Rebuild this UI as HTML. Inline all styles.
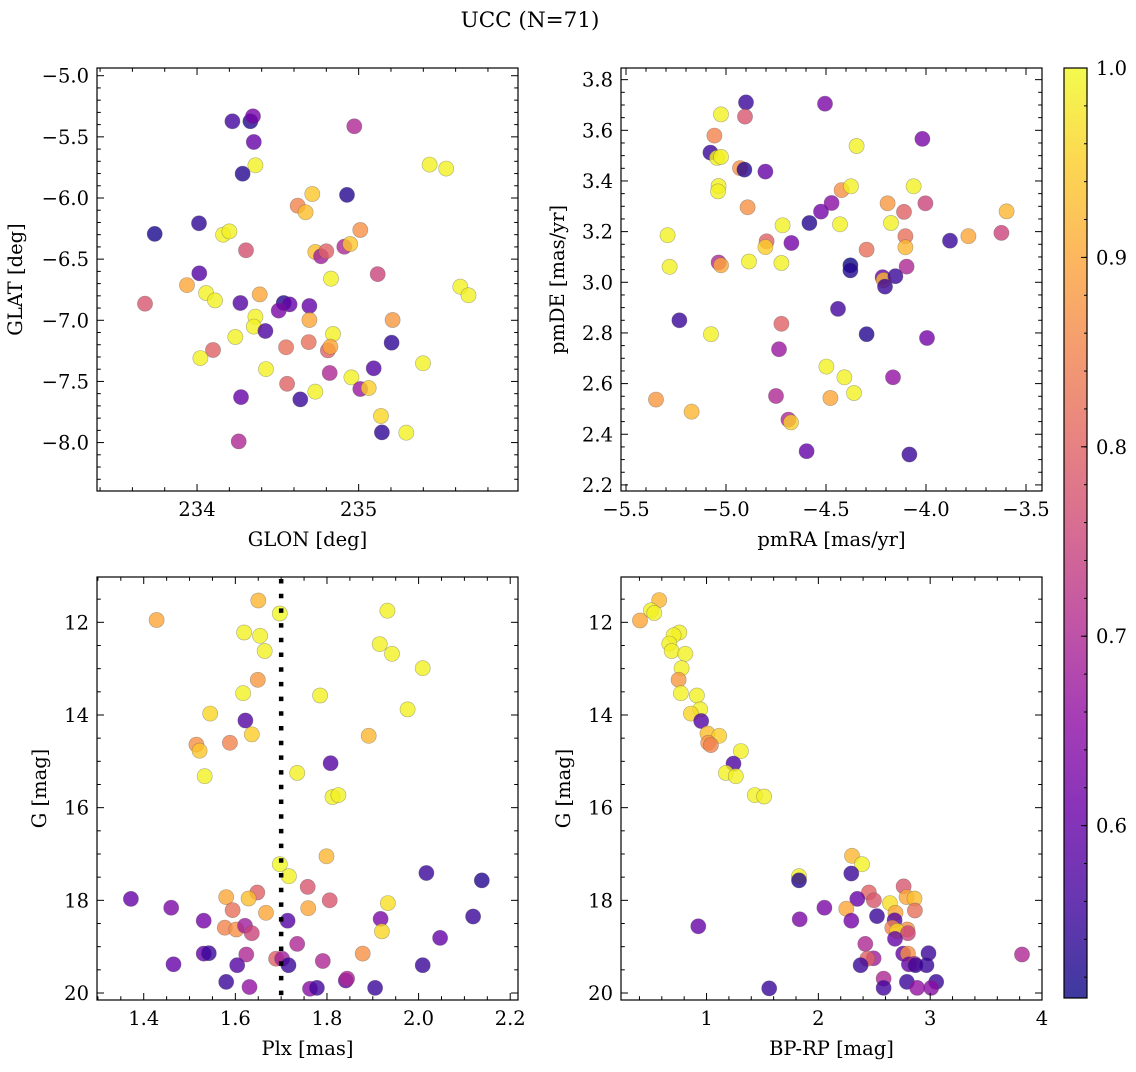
<!DOCTYPE html>
<html><head><meta charset="utf-8">
<style>
html,body{margin:0;padding:0;background:#fff;}
svg text{font-family:"DejaVu Serif","Liberation Serif",serif;fill:#000;}
</style></head>
<body>
<svg id="fig" width="1136" height="1067" viewBox="0 0 1136 1067" xmlns="http://www.w3.org/2000/svg">
<defs>
<linearGradient id="cbgrad" x1="0" y1="1" x2="0" y2="0"></linearGradient>
</defs>
<text x="530" y="27" font-size="21.5" text-anchor="middle">UCC (N=71)</text>
<g id="layer"></g>
</svg>
<script>
// ---- Panel 1: GLON / GLAT ----
const p1Lon = [234.219,234.330,234.346,234.351,234.973,234.361,234.282,235.439,235.542,234.713,
234.928,234.623,234.672,234.012,233.738,234.161,234.200,235.010,234.303,234.732,
234.767,234.800,234.911,234.948,234.014,235.118,234.829,233.938,234.056,234.111,
233.678,234.268,234.388,234.536,234.573,234.505,234.695,235.629,235.680,234.361,
234.351,234.423,234.695,235.210,234.841,234.237,234.099,234.551,234.691,234.810,
234.825,235.204,234.021,234.427,235.398,234.821,234.955,235.093,234.557,234.732,
234.639,235.010,235.062,234.272,235.138,235.144,235.295,234.258];
const p1Lat = [-5.373,-5.373,-5.332,-5.542,-5.414,-5.733,-5.801,-5.727,-5.760,-5.967,
-5.975,-6.063,-6.117,-6.207,-6.294,-6.300,-6.273,-6.262,-6.428,-6.442,
-6.477,-6.436,-6.398,-6.376,-6.616,-6.622,-6.660,-6.712,-6.777,-6.837,
-6.864,-6.859,-6.788,-6.859,-6.870,-6.921,-6.883,-6.725,-6.796,-6.971,
-7.052,-7.088,-6.998,-6.998,-7.112,-7.137,-7.243,-7.221,-7.178,-7.246,
-7.216,-7.183,-7.309,-7.399,-7.352,-7.431,-7.467,-7.393,-7.519,-7.584,
-7.647,-7.562,-7.554,-7.628,-7.783,-7.917,-7.919,-7.990];
const p1Prob = [.56,.53,.62,.60,.70,.99,.53,.99,.99,.94,
.53,.85,.93,.54,.52,.99,.99,.87,.77,.93,
.68,.80,.70,.94,.58,.75,.99,.90,.99,.99,
.78,.58,.90,.53,.60,.63,.60,.99,.99,.99,
.99,.57,.90,.88,.99,.99,.80,.82,.82,.80,
.90,.54,.99,.99,.99,.70,.99,.58,.80,.99,
.55,.67,.95,.60,.96,.54,.99,.70];

// ---- Panel 2: pmRA / pmDE ----
const p2RA = [-4.90,-4.505,-5.025,-4.905,-5.058,-5.078,-5.045,-5.025,-4.93,-4.908,
-4.803,-4.347,-4.018,-5.037,-5.04,-4.892,-4.422,-4.375,-4.062,-4.472,
-4.525,-4.583,-4.43,-4.717,-4.192,-4.11,-4.003,-4.175,-3.597,-5.292,
-4.797,-4.803,-4.673,-4.297,-4.103,-4.103,-3.88,-3.788,-3.623,-5.282,
-5.037,-5.025,-4.885,-4.723,-4.378,-4.378,-4.097,-4.217,-4.212,-4.153,
-4.205,-4.44,-5.233,-5.075,-4.723,-4.297,-3.995,-4.735,-4.498,-4.408,
-4.36,-4.478,-4.165,-5.35,-5.172,-4.75,-4.688,-4.675,-4.597,-4.083];
const p2DE = [3.710,3.705,3.663,3.654,3.579,3.512,3.491,3.495,3.451,3.445,
3.437,3.538,3.566,3.380,3.359,3.296,3.364,3.379,3.379,3.313,
3.279,3.234,3.229,3.225,3.312,3.278,3.312,3.234,3.280,3.186,
3.162,3.139,3.155,3.129,3.182,3.138,3.164,3.182,3.195,3.061,
3.078,3.067,3.082,3.076,3.067,3.047,3.062,3.020,3.009,3.024,
2.983,2.895,2.850,2.795,2.836,2.795,2.780,2.736,2.667,2.625,
2.563,2.543,2.625,2.537,2.489,2.551,2.458,2.447,2.333,2.320];
const p2Prob = [.55,.63,.99,.78,.85,.55,.99,.99,.87,.53,
.60,.99,.63,.99,.99,.87,.87,.99,.99,.65,
.62,.53,.99,.99,.88,.80,.75,.99,.92,.99,
.80,.95,.62,.82,.82,.92,.55,.90,.75,.99,
.70,.90,.99,.99,.50,.53,.70,.60,.92,.55,
.55,.56,.55,.99,.80,.53,.62,.67,.99,.99,
.99,.90,.66,.88,.92,.70,.70,.95,.60,.55];

// ---- Panel 3: Plx / G ----
const p3Plx = [1.650,1.697,1.932,1.428,1.619,1.654,1.664,1.915,1.942,2.009,
1.649,1.617,1.785,1.976,1.545,1.622,1.636,1.891,1.515,1.522,
1.588,1.533,1.735,1.808,1.812,1.825,1.697,1.799,1.717,2.017,
2.138,1.758,1.648,1.372,1.580,1.629,1.806,1.933,1.460,1.594,
1.759,1.667,1.531,1.714,1.917,2.119,1.577,1.602,1.621,1.636,
1.920,2.047,1.735,1.531,1.542,1.624,1.465,1.604,1.689,1.702,
1.716,1.791,1.878,2.009,1.580,1.631,1.763,1.778,1.841,1.844,1.905];
const p3G = [11.53,11.81,11.75,11.95,12.22,12.29,12.62,12.47,12.68,12.99,
13.24,13.53,13.58,13.88,13.97,14.12,14.42,14.45,14.64,14.77,
14.60,15.32,15.25,15.04,15.77,15.73,17.22,17.05,17.48,17.41,
17.57,17.71,17.83,17.97,17.93,17.96,18.00,18.06,18.16,18.21,
18.17,18.27,18.44,18.44,18.40,18.35,18.59,18.63,18.55,18.71,
18.67,18.81,18.94,19.15,19.14,19.17,19.38,19.40,19.26,19.26,
19.40,19.31,19.15,19.40,19.76,19.87,19.91,19.89,19.73,19.69,19.89];
const p3Prob = [.92,1.0,.99,.90,.99,.99,.99,.99,.99,.99,
.88,.99,.99,.99,.96,.58,.95,.92,.87,.94,
.85,.99,.99,.58,.99,.99,1.0,.92,.99,.55,
.53,.78,.80,.60,.90,.93,.78,.97,.63,.82,
.90,.90,.62,.58,.63,.55,.85,.87,.68,.75,
.96,.60,.70,.60,.55,.70,.60,.58,.80,.68,
.55,.70,.87,.55,.55,.66,.65,.56,.60,.70,.55];
const plxLine = 1.7;

// ---- Panel 4: BP-RP / G ----
const p4BR = [0.577,0.503,0.533,0.405,0.756,0.705,0.667,0.688,0.810,0.777,
0.750,0.771,0.914,0.943,0.860,0.952,1.009,1.113,1.015,1.039,
1.307,1.241,1.173,1.262,1.432,1.515,2.301,2.390,2.295,1.827,
1.827,2.762,2.452,2.348,2.497,2.789,2.860,2.640,2.054,2.250,
2.863,2.690,2.524,2.682,1.833,2.295,0.926,2.661,2.795,2.705,
2.801,2.685,2.420,2.759,2.801,2.985,3.821,2.494,2.438,2.378,
2.810,2.860,2.869,2.967,2.583,2.583,2.792,3.054,1.560,2.884,3.009];
const p4G = [11.52,11.74,11.80,11.96,12.22,12.28,12.46,12.62,12.68,12.99,
13.24,13.53,13.58,13.88,13.97,14.13,14.40,14.45,14.60,14.65,
14.78,15.05,15.25,15.32,15.73,15.76,17.04,17.22,17.42,17.48,
17.57,17.70,17.83,17.97,18.00,17.93,17.96,18.06,18.16,18.18,
18.22,18.27,18.34,18.43,18.41,18.44,18.56,18.59,18.63,18.66,
18.71,18.83,18.94,19.15,19.15,19.14,19.17,19.25,19.26,19.40,
19.38,19.37,19.40,19.40,19.69,19.89,19.76,19.76,19.90,19.89,19.89];
const p4Prob = [.92,.99,.99,.90,.99,.99,.99,.99,.99,.99,
.88,.99,.99,.99,.96,.58,.93,.95,.87,.85,
.99,.57,.99,.99,.99,.99,.92,.99,.55,.99,
.53,.78,.80,.60,.78,.90,.93,.97,.63,.90,
.82,.90,.55,.58,.63,.62,.60,.85,.87,.96,
.75,.60,.70,.60,.87,.55,.70,.68,.80,.55,
.60,.70,.55,.55,.70,.56,.55,.55,.55,.66,.65];

// colorbar
const cbTicks = [0.6,0.7,0.8,0.9,1.0];
const cbMin = 0.509, cbMax = 1.0;

const FS = 19.5;
const plasma = [[13,8,135],[65,4,157],[106,0,168],[143,13,164],[177,42,144],[204,71,120],[225,100,98],[242,132,75],[252,166,54],[252,206,37],[240,249,33]];
function cmap(v){
  let t=(v-cbMin)/(cbMax-cbMin); t=Math.max(0,Math.min(1,t));
  const s=t*10, i=Math.min(9,Math.floor(s)), f=s-i;
  const a=plasma[i], b=plasma[i+1];
  return 'rgb('+a.map((c,k)=>Math.round(c+(b[k]-c)*f)).join(',')+')';
}
const NS='http://www.w3.org/2000/svg';
const layer=document.getElementById('layer');
function mk(tag,attrs,parent){const e=document.createElementNS(NS,tag);for(const k in attrs)e.setAttribute(k,attrs[k]);(parent||layer).appendChild(e);return e;}
function fmt(v,d){const s=Math.abs(v).toFixed(d);return (v<-1e-9?'\u2212':'')+s;}

const panels=[
 {name:'sky',x0:97,x1:518,y0:68,y1:491,xmin:233.381,xmax:235.986,ymin:-8.396,ymax:-4.937,inv:false,
  xmaj:[234,235],xminStep:0.2,xd:0,ymajStart:-8.0,ymajStep:0.5,yminStep:0.1,yd:1,
  xl:'GLON [deg]',yl:'GLAT [deg]',ylx:22,xs:p1Lon,ys:p1Lat,ps:p1Prob},
 {name:'pm',x0:621,x1:1042,y0:68,y1:491,xmin:-5.525,xmax:-3.42,ymin:2.176,ymax:3.846,inv:false,
  xmaj:[-5.5,-5.0,-4.5,-4.0,-3.5],xminStep:0.1,xd:1,ymajStart:2.2,ymajStep:0.2,yminStep:0.05,yd:1,
  xl:'pmRA [mas/yr]',yl:'pmDE [mas/yr]',ylx:564,xs:p2RA,ys:p2DE,ps:p2Prob},
 {name:'plx',x0:97,x1:518,y0:577,y1:1000,xmin:1.298,xmax:2.217,ymin:11.022,ymax:20.151,inv:true,
  xmaj:[1.4,1.6,1.8,2.0,2.2],xminStep:0.05,xd:1,ymajStart:12,ymajStep:2,yminStep:0.5,yd:0,
  xl:'Plx [mas]',yl:'G [mag]',ylx:46,xs:p3Plx,ys:p3G,ps:p3Prob},
 {name:'cmd',x0:621,x1:1042,y0:577,y1:1000,xmin:0.235,xmax:4.0,ymin:11.022,ymax:20.151,inv:true,
  xmaj:[1,2,3,4],xminStep:0.2,xd:0,ymajStart:12,ymajStep:2,yminStep:0.5,yd:0,
  xl:'BP-RP [mag]',yl:'G [mag]',ylx:570,xs:p4BR,ys:p4G,ps:p4Prob}
];

panels.forEach(P=>{
  const sx=v=>P.x0+(v-P.xmin)/(P.xmax-P.xmin)*(P.x1-P.x0);
  const sy=P.inv? v=>P.y0+(v-P.ymin)/(P.ymax-P.ymin)*(P.y1-P.y0)
                : v=>P.y1-(v-P.ymin)/(P.ymax-P.ymin)*(P.y1-P.y0);
  const g=mk('g',{});
  
  
  const pts=mk('g',{},g);
  
  
  for(let i=0;i<P.xs.length;i++){
    const c=mk('circle',{cx:sx(P.xs[i]).toFixed(1),cy:sy(P.ys[i]).toFixed(1),r:7.6,fill:cmap(P.ps[i]),'fill-opacity':0.8,stroke:'#555','stroke-opacity':0.45,'stroke-width':0.6},pts);
    
    
  }
  if(P.name==='plx'){
    const ln=mk('line',{x1:sx(plxLine),x2:sx(plxLine),y1:P.y0+2,y2:P.y1,stroke:'#000','stroke-width':4.5,'stroke-dasharray':'4.5 10.2'},g);
    
    
  }
  const fr=mk('rect',{x:P.x0,y:P.y0,width:P.x1-P.x0,height:P.y1-P.y0,fill:'none',stroke:'#000','stroke-width':1.2},g);
  
  
  const tk=mk('g',{stroke:'#000','stroke-width':1},g);
  
  
  const xs0=Math.ceil(P.xmin/P.xminStep-1e-6);
  for(let k=xs0;k*P.xminStep<=P.xmax+1e-9;k++){
    const v=k*P.xminStep, X=sx(v);
    const isMaj=P.xmaj.some(m=>Math.abs(m-v)<1e-6);
    const L=isMaj?7:3.8;
    mk('line',{x1:X,x2:X,y1:P.y1,y2:P.y1-L},tk);
    mk('line',{x1:X,x2:X,y1:P.y0,y2:P.y0+L},tk);
  }
  P.xmaj.forEach(v=>{
    const t=mk('text',{x:sx(v),y:P.y1+25,'font-size':FS,'text-anchor':'middle'},g);
    t.textContent=fmt(v,P.xd);
    
    
  });
  const ys0=Math.ceil(P.ymin/P.yminStep-1e-6);
  for(let k=ys0;k*P.yminStep<=P.ymax+1e-9;k++){
    const v=k*P.yminStep, Y=sy(v);
    const r=(v-P.ymajStart)/P.ymajStep;
    const isMaj=Math.abs(r-Math.round(r))<1e-6;
    const L=isMaj?7:3.8;
    mk('line',{x1:P.x0,x2:P.x0+L,y1:Y,y2:Y},tk);
    mk('line',{x1:P.x1,x2:P.x1-L,y1:Y,y2:Y},tk);
    if(isMaj){
      const t=mk('text',{x:P.x0-8,y:Y+7,'font-size':FS,'text-anchor':'end'},g);
      t.textContent=fmt(v,P.yd);
      
      
    }
  }
  const xl=mk('text',{x:(P.x0+P.x1)/2,y:P.y1+55,'font-size':FS,'text-anchor':'middle'},g);
  xl.textContent=P.xl;
  
  
  const cy=(P.y0+P.y1)/2;
  const yl=mk('text',{x:P.ylx,y:cy,'font-size':FS,'text-anchor':'middle',transform:'rotate(-90 '+P.ylx+' '+cy+')'},g);
  yl.textContent=P.yl;
  
  
});

// colorbar
(function(){
  const cx0=1064,cx1=1087,cy0=68,cy1=998;
  const grad=document.getElementById('cbgrad');
  for(let i=0;i<=10;i++){const s=document.createElementNS(NS,'stop');s.setAttribute('offset',i/10);s.setAttribute('stop-color','rgb('+plasma[i].join(',')+')');grad.appendChild(s);}
  const g=mk('g',{});
  
  
  mk('rect',{x:cx0,y:cy0,width:cx1-cx0,height:cy1-cy0,fill:'url(#cbgrad)','fill-opacity':0.8},g);
  mk('rect',{x:cx0,y:cy0,width:cx1-cx0,height:cy1-cy0,fill:'none',stroke:'#000','stroke-width':1.2},g);
  const sy=v=>cy1-(v-cbMin)/(cbMax-cbMin)*(cy1-cy0);
  for(let k=Math.ceil(cbMin/0.02);k*0.02<=cbMax+1e-9;k++){
    const Y=sy(k*0.02);
    mk('line',{x1:cx1,x2:cx1-3,y1:Y,y2:Y,stroke:'#000','stroke-width':1},g);
  }
  cbTicks.forEach(v=>{
    const Y=sy(v);
    mk('line',{x1:cx1,x2:cx1-6,y1:Y,y2:Y,stroke:'#000','stroke-width':1},g);
    const t=mk('text',{x:cx1+9,y:Y+7,'font-size':FS},g);
    t.textContent=v.toFixed(1);
    
    
  });
})();
</script>
</body></html>
